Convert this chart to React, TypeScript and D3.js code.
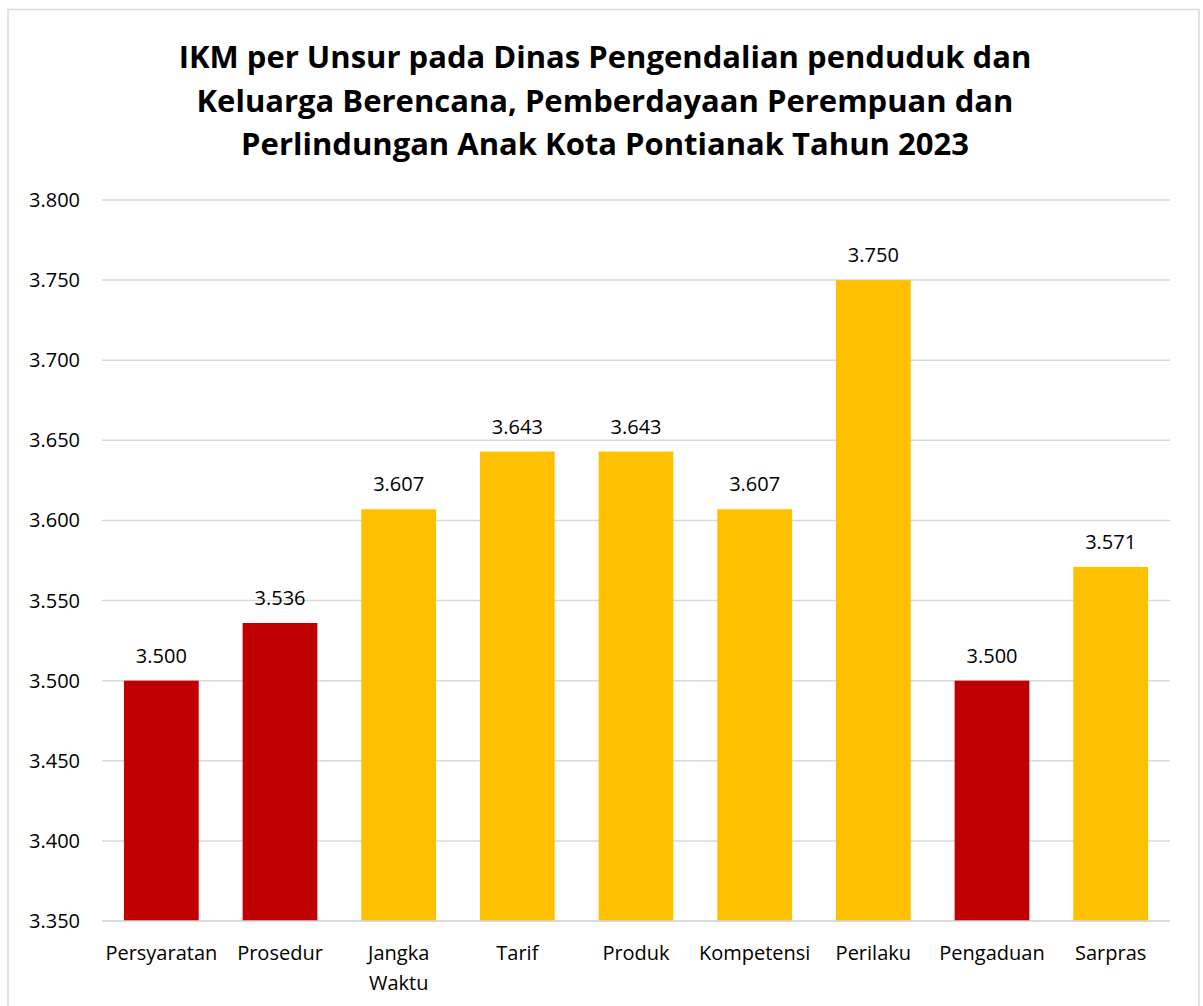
import React from "react";
import * as d3 from "d3";

const categories = ["Persyaratan", "Prosedur", "Jangka Waktu", "Tarif", "Produk", "Kompetensi", "Perilaku", "Pengaduan", "Sarpras"];
const categoryLines = [["Persyaratan"], ["Prosedur"], ["Jangka", "Waktu"], ["Tarif"], ["Produk"], ["Kompetensi"], ["Perilaku"], ["Pengaduan"], ["Sarpras"]];
const values = [3.5, 3.536, 3.607, 3.643, 3.643, 3.607, 3.75, 3.5, 3.571];
const barColors = ["#C00000", "#C00000", "#FFC000", "#FFC000", "#FFC000", "#FFC000", "#FFC000", "#C00000", "#FFC000"];
const yTicks = [3.35, 3.4, 3.45, 3.5, 3.55, 3.6, 3.65, 3.7, 3.75, 3.8];
const titleLines = [
  "IKM per Unsur pada Dinas Pengendalian penduduk dan",
  "Keluarga Berencana, Pemberdayaan Perempuan dan",
  "Perlindungan Anak Kota Pontianak Tahun 2023",
];

const W = 1203;
const H = 1006;
const font = "'Open Sans', 'Noto Sans', sans-serif";
const fs = 20;

export default function App() {
  const x = d3.scaleBand<string>().domain(categories).range([102, 1170]).paddingInner(0.37).paddingOuter(0.185);
  const y = d3.scaleLinear().domain([3.35, 3.8]).range([921, 200]);
  const fmt = d3.format(".3f");
  return (
    <svg width={W} height={H} style={{ position: "absolute", left: 0, top: 0, background: "#fff" }}>
      <rect x={8} y={9.5} width={1191} height={1010} fill="#fff" stroke="#D9D9D9" strokeWidth={1.5} />
      {titleLines.map((t, i) => (
        <text key={i} x={605} y={68 + i * 43.5} textAnchor="middle" fontFamily={font} fontWeight={700} fontSize={31} fill="#000">
          {t}
        </text>
      ))}
      {yTicks.map((t) => (
        <g key={t}>
          <line x1={102} x2={1170} y1={y(t)} y2={y(t)} stroke="#D9D9D9" strokeWidth={1.5} />
          <text x={80} y={y(t)} dy="0.35em" textAnchor="end" fontFamily={font} fontSize={fs} fill="#000">
            {fmt(t)}
          </text>
        </g>
      ))}
      {categories.map((c, i) => (
        <g key={c}>
          <rect x={x(c)} y={y(values[i])} width={x.bandwidth()} height={y(3.35) - y(values[i])} fill={barColors[i]} />
          <text x={(x(c) as number) + x.bandwidth() / 2} y={y(values[i]) - 18} textAnchor="middle" fontFamily={font} fontSize={fs} fill="#000">
            {fmt(values[i])}
          </text>
          {categoryLines[i].map((ln, j) => (
            <text key={j} x={(x(c) as number) + x.bandwidth() / 2} y={960 + j * 30} textAnchor="middle" fontFamily={font} fontSize={fs} fill="#000">
              {ln}
            </text>
          ))}
        </g>
      ))}
      <line x1={102} x2={1170} y1={y(3.35)} y2={y(3.35)} stroke="#D9D9D9" strokeWidth={1.5} />
    </svg>
  );
}
